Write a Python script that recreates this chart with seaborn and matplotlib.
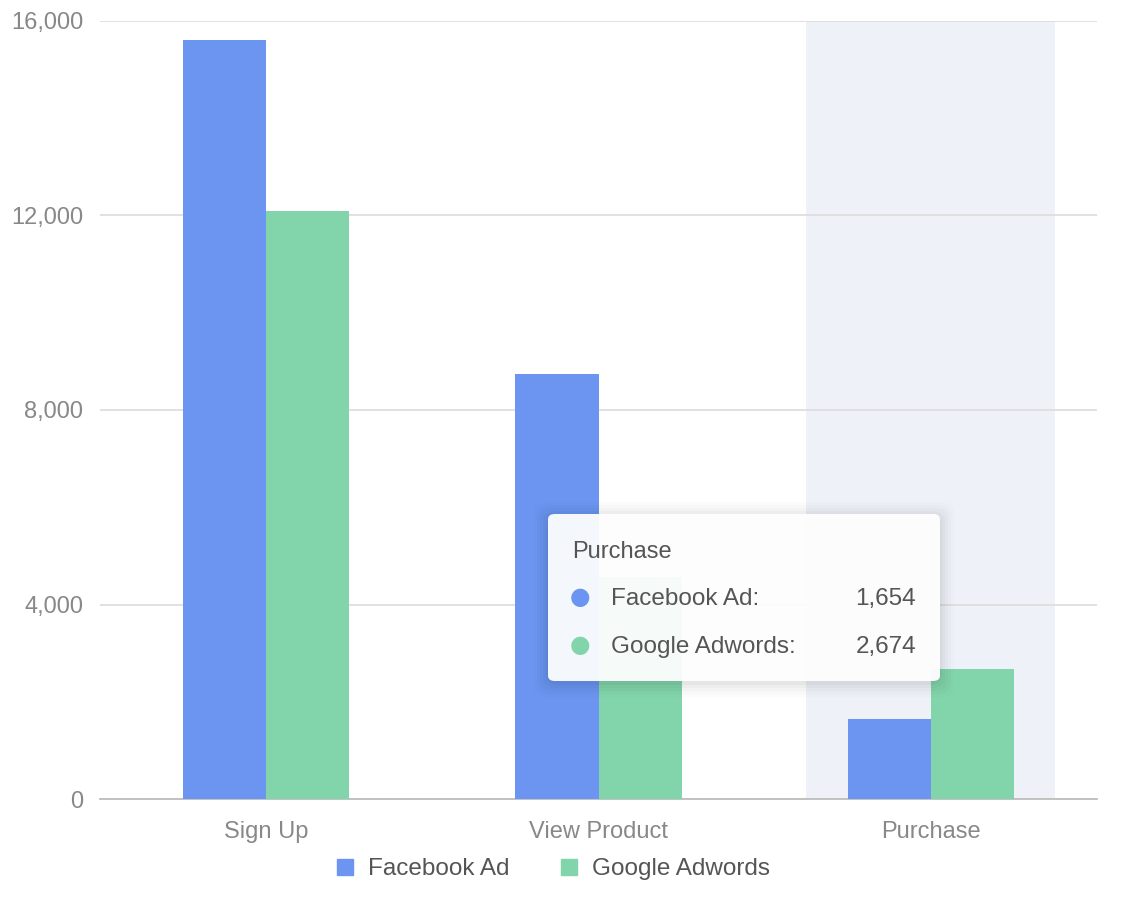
import numpy as np
import pandas as pd
import matplotlib
matplotlib.use("Agg")
import matplotlib.pyplot as plt
import seaborn as sns
from matplotlib.patches import FancyBboxPatch, Rectangle

# dados
STAGES = ["Sign Up", "View Product", "Purchase"]
FACEBOOK = [15600, 8740, 1654]
GOOGLE = [12100, 4560, 2674]
SERIES = ["Facebook Ad", "Google Adwords"]
YTICKS = [0, 4000, 8000, 12000, 16000]
HIGHLIGHT = "Purchase"

COLORS = {"Facebook Ad": "#6b95f0", "Google Adwords": "#82d5aa"}

df = pd.DataFrame({
    "stage": STAGES * 2,
    "series": [SERIES[0]] * 3 + [SERIES[1]] * 3,
    "value": FACEBOOK + GOOGLE,
})

sns.set_style("white")
plt.rcParams["font.family"] = ["Liberation Sans", "DejaVu Sans"]

fig = plt.figure(figsize=(11.3, 9.02), dpi=100)
ax = fig.add_axes([100 / 1130, 103 / 902, 997 / 1130, 778 / 902])

# faixa de destaque da categoria com tooltip
hi = STAGES.index(HIGHLIGHT)
ax.axvspan(hi - 0.375, hi + 0.375, color="#eef1f7", zorder=0, lw=0)

sns.barplot(data=df, x="stage", y="value", hue="series", palette=COLORS,
            width=0.5, gap=0, saturation=1, ax=ax, zorder=3, legend=False)
for p in ax.patches:
    p.set_edgecolor("none")

ax.set_xlim(-0.5, 2.5)
ax.set_ylim(0, 16000)
ax.set_yticks(YTICKS)
ax.set_yticklabels([f"{v:,}" for v in YTICKS])
ax.yaxis.grid(True, color="#dcdcdc", lw=1.2, zorder=1)
ax.set_axisbelow(True)
ax.set_xlabel("")
ax.set_ylabel("")
for s in ["left", "right", "top"]:
    ax.spines[s].set_visible(False)
ax.spines["bottom"].set_color("#bdbdbd")
ax.spines["bottom"].set_linewidth(1.3)
ax.tick_params(axis="y", length=0, pad=12, labelsize=17, labelcolor="#888888")
ax.tick_params(axis="x", length=0, pad=16, labelsize=17, labelcolor="#888888")

# legenda manual abaixo do eixo
for name, xs in zip(SERIES, [337, 561]):
    fig.patches.append(Rectangle((xs / 1130, (902 - 875) / 902), 16 / 1130, 16 / 902,
                                 transform=fig.transFigure, color=COLORS[name]))
    fig.text((xs + 31) / 1130, (902 - 869) / 902, name, fontsize=17.5,
             color="#555555", va="center", ha="left")

# tooltip
tx0, ty0, tw, th = 548, 514, 392, 167
for k, a in [(14, 0.012), (11, 0.015), (8, 0.02), (5, 0.025), (2, 0.03)]:
    fig.patches.append(FancyBboxPatch(((tx0 - k) / 1130, (902 - ty0 - th - k - 2) / 902),
                                      (tw + 2 * k) / 1130, (th + 2 * k) / 902,
                                      boxstyle="round,pad=0,rounding_size=0.012",
                                      transform=fig.transFigure, fc="#000000",
                                      alpha=a, lw=0, zorder=10))
fig.patches.append(FancyBboxPatch((tx0 / 1130, (902 - ty0 - th) / 902), tw / 1130, th / 902,
                                  boxstyle="round,pad=0,rounding_size=0.006",
                                  transform=fig.transFigure, fc="white", alpha=0.94,
                                  lw=0, zorder=11))
fig.text(572 / 1130, (902 - 552) / 902, HIGHLIGHT, fontsize=17, color="#555555",
         va="center", ha="left", zorder=12)
for name, val, yy in zip(SERIES, [FACEBOOK[hi], GOOGLE[hi]], [597, 645]):
    fig.text(580 / 1130, (902 - yy) / 902, "\u25cf", fontsize=17, color=COLORS[name],
             va="center", ha="center", zorder=12, family=["DejaVu Sans"])
    fig.text(611 / 1130, (902 - yy - 2) / 902, name + ":", fontsize=17.5, color="#555555",
             va="center", ha="left", zorder=12)
    fig.text(916 / 1130, (902 - yy - 2) / 902, f"{val:,}", fontsize=17.5, color="#555555",
             va="center", ha="right", zorder=12)

fig.savefig("out.png", dpi=100)
